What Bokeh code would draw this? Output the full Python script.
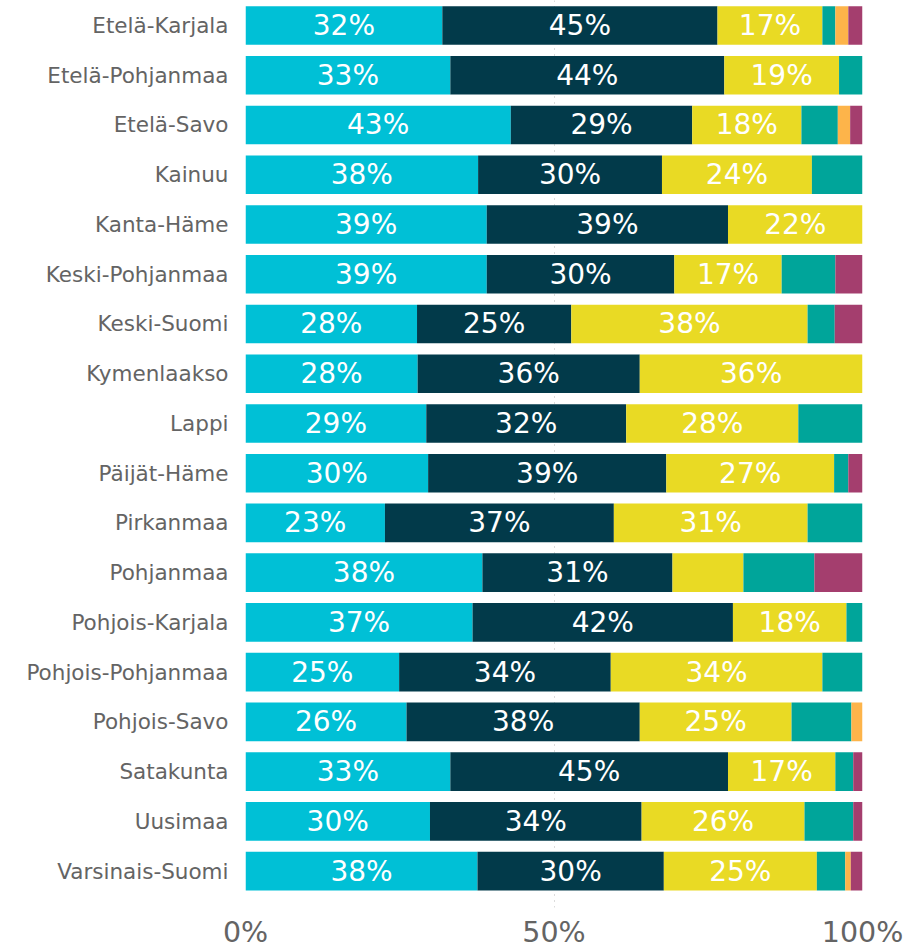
from bokeh.plotting import figure
from bokeh.models import ColumnDataSource, Range1d, FixedTicker, PrintfTickFormatter
from bokeh.embed import file_html
from bokeh.resources import INLINE
from bokeh.core.properties import value

regions = ["Etelä-Karjala", "Etelä-Pohjanmaa", "Etelä-Savo", "Kainuu", "Kanta-Häme",
           "Keski-Pohjanmaa", "Keski-Suomi", "Kymenlaakso", "Lappi", "Päijät-Häme",
           "Pirkanmaa", "Pohjanmaa", "Pohjois-Karjala", "Pohjois-Pohjanmaa",
           "Pohjois-Savo", "Satakunta", "Uusimaa", "Varsinais-Suomi"]

s1 = [31.9, 33.2, 43.0, 37.7, 39.1, 39.1, 27.8, 27.9, 29.3, 29.6, 22.6, 38.4, 36.8, 24.9, 26.1, 33.2, 29.9, 37.6]
s2 = [44.6, 44.4, 29.4, 29.8, 39.1, 30.4, 25.0, 36.0, 32.4, 38.6, 37.1, 30.8, 42.2, 34.3, 37.8, 45.0, 34.3, 30.2]
s3 = [17.0, 18.6, 17.7, 24.3, 21.8, 17.4, 38.3, 36.1, 27.9, 27.2, 31.4, 11.5, 18.4, 34.3, 24.6, 17.4, 26.4, 24.8]
s4 = [2.1, 3.8, 5.9, 8.2, 0.0, 8.7, 4.4, 0.0, 10.4, 2.3, 8.9, 11.5, 2.6, 6.5, 9.7, 2.9, 7.9, 4.6]
s5 = [2.1, 0.0, 2.0, 0.0, 0.0, 0.0, 0.0, 0.0, 0.0, 0.0, 0.0, 0.0, 0.0, 0.0, 1.8, 0.0, 0.0, 0.9]
s6 = [2.3, 0.0, 2.0, 0.0, 0.0, 4.4, 4.5, 0.0, 0.0, 2.3, 0.0, 7.8, 0.0, 0.0, 0.0, 1.5, 1.5, 1.9]

x_ticks = [0, 50, 100]

series = [s1, s2, s3, s4, s5, s6]
names = ["s1", "s2", "s3", "s4", "s5", "s6"]
colors = ["#00C0D6", "#023A4A", "#E9DA24", "#00A59A", "#FDB44A", "#A43E6E"]

n = len(regions)
rows = list(range(n))
data = {"y": rows}
for nm, s in zip(names, series):
    data[nm] = s
source = ColumnDataSource(data)

p = figure(width=907, height=951, output_backend="svg", toolbar_location=None,
           x_range=Range1d(0, 100), y_range=Range1d(17.73, -0.502),
           min_border_left=245, min_border_right=45, min_border_top=0,
           min_border_bottom=39)
p.outline_line_color = None
p.background_fill_color = "white"
p.border_fill_color = "white"

p.hbar_stack(names, y="y", height=0.777, color=colors, line_color=None, source=source)

# labels for the first three series
lx, ly, lt = [], [], []
for i in rows:
    left = 0.0
    for k, s in enumerate(series):
        v = s[i]
        if k < 3 and v >= 15:
            lx.append(left + v / 2)
            ly.append(i)
            lt.append(f"{round(v)}%")
        left += v
lsrc = ColumnDataSource(dict(x=lx, y=ly, text=lt))
p.text(x="x", y="y", text="text", source=lsrc, text_align="center",
       text_baseline="middle", text_color="white",
       text_font=value("DejaVu Sans"), text_font_size="28px")

# y axis
p.yaxis.ticker = FixedTicker(ticks=rows)
p.yaxis.major_label_overrides = {i: r for i, r in enumerate(regions)}
p.yaxis.axis_line_color = None
p.yaxis.major_tick_line_color = None
p.yaxis.minor_tick_line_color = None
p.yaxis.major_tick_out = 0
p.yaxis.major_label_standoff = 17
p.yaxis.major_label_text_font = "DejaVu Sans"
p.yaxis.major_label_text_font_size = "21.5px"
p.yaxis.major_label_text_color = "#646464"

# x axis
p.xaxis.ticker = FixedTicker(ticks=x_ticks)
p.xaxis.formatter = PrintfTickFormatter(format="%d%%")
p.xaxis.axis_line_color = None
p.xaxis.major_tick_line_color = None
p.xaxis.minor_tick_line_color = None
p.xaxis.major_tick_out = 0
p.xaxis.major_label_standoff = 8
p.xaxis.major_label_text_font = "DejaVu Sans"
p.xaxis.major_label_text_font_size = "28.5px"
p.xaxis.major_label_text_color = "#646464"

p.ygrid.grid_line_color = None
p.xgrid.ticker = FixedTicker(ticks=x_ticks)
p.xgrid.grid_line_color = "#b8b8b8"
p.xgrid.grid_line_dash = "1 5"
p.xgrid.grid_line_width = 1

open("out.html", "w").write(file_html(p, INLINE))
